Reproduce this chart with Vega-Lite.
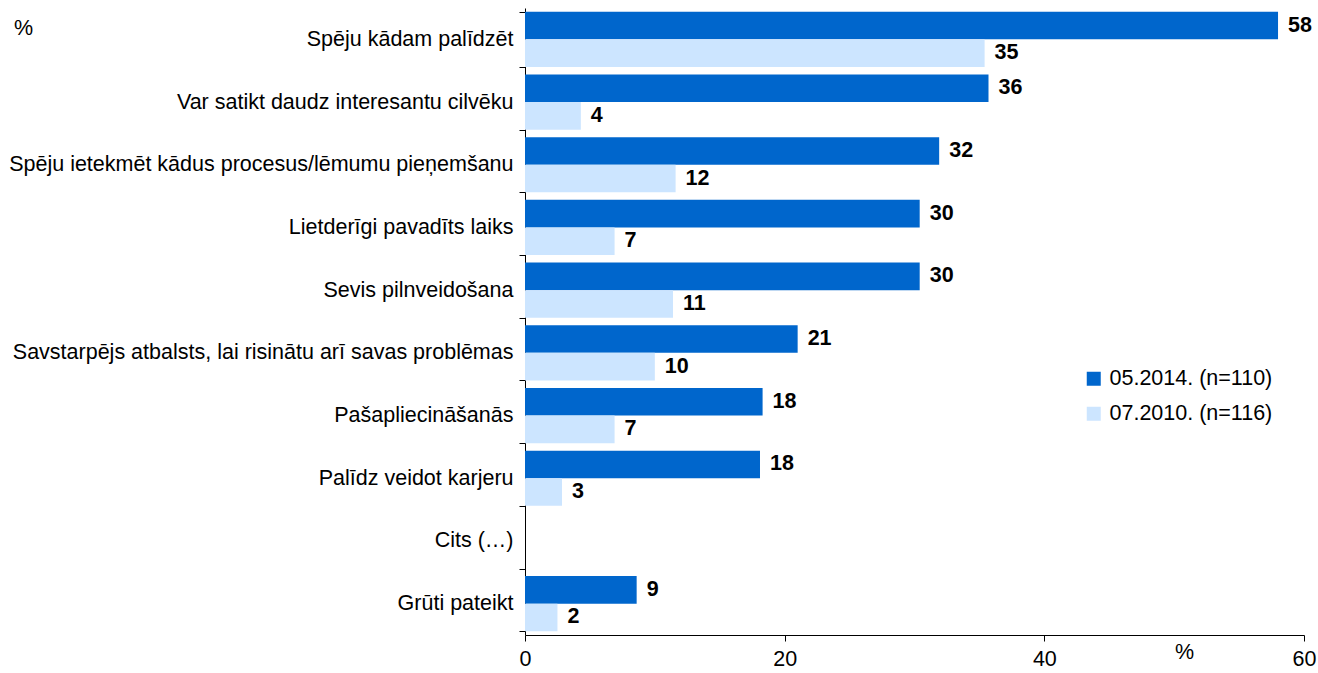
{
  "$schema": "https://vega.github.io/schema/vega-lite/v6.json",
  "autosize": {"type": "none"},
  "width": 779,
  "height": 627,
  "padding": {"left": 525, "top": 8, "right": 14, "bottom": 38},
  "background": "white",
  "config": {
    "font": "Liberation Sans",
    "view": {"stroke": null},
    "axis": {"labelFont": "Liberation Sans", "titleFont": "Liberation Sans", "labelColor": "black", "titleColor": "black", "domainColor": "black", "tickColor": "black", "grid": false}
  },
  "title": {"text": "%", "anchor": "start", "frame": "group", "dx": -511, "dy": 46, "fontSize": 21.5, "fontWeight": "normal", "font": "Liberation Sans", "color": "black"},
  "data": {"values": [
    {"cat": "Spēju kādam palīdzēt", "series": "05.2014. (n=110)", "value": 58.0, "label": "58"},
    {"cat": "Spēju kādam palīdzēt", "series": "07.2010. (n=116)", "value": 35.4, "label": "35"},
    {"cat": "Var satikt daudz interesantu cilvēku", "series": "05.2014. (n=110)", "value": 35.7, "label": "36"},
    {"cat": "Var satikt daudz interesantu cilvēku", "series": "07.2010. (n=116)", "value": 4.3, "label": "4"},
    {"cat": "Spēju ietekmēt kādus procesus/lēmumu pieņemšanu", "series": "05.2014. (n=110)", "value": 31.9, "label": "32"},
    {"cat": "Spēju ietekmēt kādus procesus/lēmumu pieņemšanu", "series": "07.2010. (n=116)", "value": 11.6, "label": "12"},
    {"cat": "Lietderīgi pavadīts laiks", "series": "05.2014. (n=110)", "value": 30.4, "label": "30"},
    {"cat": "Lietderīgi pavadīts laiks", "series": "07.2010. (n=116)", "value": 6.9, "label": "7"},
    {"cat": "Sevis pilnveidošana", "series": "05.2014. (n=110)", "value": 30.4, "label": "30"},
    {"cat": "Sevis pilnveidošana", "series": "07.2010. (n=116)", "value": 11.4, "label": "11"},
    {"cat": "Savstarpējs atbalsts, lai risinātu arī savas problēmas", "series": "05.2014. (n=110)", "value": 21.0, "label": "21"},
    {"cat": "Savstarpējs atbalsts, lai risinātu arī savas problēmas", "series": "07.2010. (n=116)", "value": 10.0, "label": "10"},
    {"cat": "Pašapliecināšanās", "series": "05.2014. (n=110)", "value": 18.3, "label": "18"},
    {"cat": "Pašapliecināšanās", "series": "07.2010. (n=116)", "value": 6.9, "label": "7"},
    {"cat": "Palīdz veidot karjeru", "series": "05.2014. (n=110)", "value": 18.1, "label": "18"},
    {"cat": "Palīdz veidot karjeru", "series": "07.2010. (n=116)", "value": 2.85, "label": "3"},
    {"cat": "Grūti pateikt", "series": "05.2014. (n=110)", "value": 8.6, "label": "9"},
    {"cat": "Grūti pateikt", "series": "07.2010. (n=116)", "value": 2.5, "label": "2"}
  ]},
  "encoding": {
    "y": {
      "field": "cat", "type": "nominal",
      "scale": {
        "domain": ["Spēju kādam palīdzēt", "Var satikt daudz interesantu cilvēku", "Spēju ietekmēt kādus procesus/lēmumu pieņemšanu", "Lietderīgi pavadīts laiks", "Sevis pilnveidošana", "Savstarpējs atbalsts, lai risinātu arī savas problēmas", "Pašapliecināšanās", "Palīdz veidot karjeru", "Cits (…)", "Grūti pateikt"],
        "paddingInner": 0.12, "paddingOuter": 0.06
      },
      "axis": {"title": null, "labelFontSize": 21.5, "labelPadding": 6, "tickSize": 6, "tickBand": "extent", "labelLimit": 600}
    },
    "yOffset": {"field": "series", "type": "nominal", "scale": {"paddingInner": 0, "paddingOuter": 0}},
    "x": {
      "field": "value", "type": "quantitative",
      "scale": {"domain": [0, 60], "nice": false},
      "axis": {"values": [0, 20, 40, 60], "title": "%", "titleFontSize": 21.5, "titleFontWeight": "normal", "titleX": 659, "titleY": 17, "titleBaseline": "middle", "titleAlign": "center", "labelFontSize": 21.5, "labelPadding": 7, "tickSize": 6, "labelFlush": false}
    }
  },
  "layer": [
    {
      "mark": {"type": "bar", "cornerRadius": 0},
      "encoding": {
        "color": {
          "field": "series", "type": "nominal",
          "scale": {"domain": ["05.2014. (n=110)", "07.2010. (n=116)"], "range": ["#0066CC", "#CCE5FF"]},
          "legend": {"title": null, "orient": "none", "legendX": 558, "legendY": 360, "symbolType": "square", "symbolSize": 196, "symbolStrokeWidth": 0, "labelFontSize": 21.5, "labelFont": "Liberation Sans", "labelColor": "black", "labelLimit": 400, "rowPadding": 12, "labelOffset": 5}
        }
      }
    },
    {
      "mark": {"type": "text", "align": "left", "baseline": "middle", "dx": 10, "fontSize": 21.5, "fontWeight": "bold", "color": "black"},
      "encoding": {"text": {"field": "label"}}
    }
  ]
}
